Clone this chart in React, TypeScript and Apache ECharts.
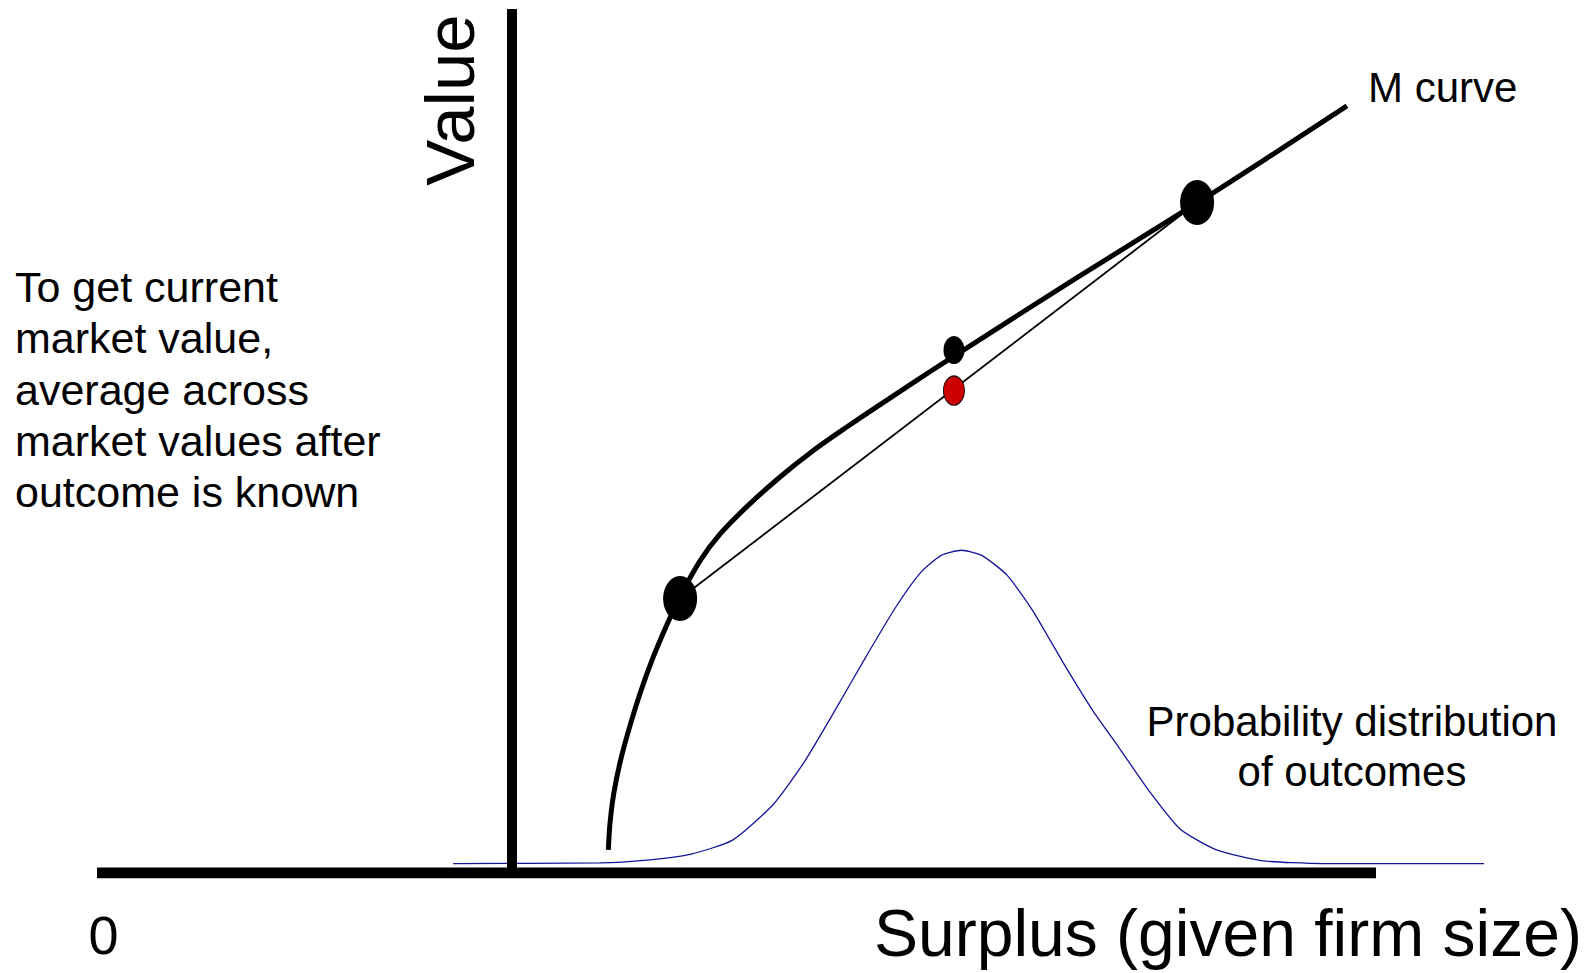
import React, { useEffect, useRef } from "react";
import * as echarts from "echarts";

// Axis ranges (surplus on x, value on y)
const surplusRange: [number, number] = [-20, 47.2];
const surplusAxisEnd = 41.7;
const valueRange: [number, number] = [0, 42];

// M curve: market value as a function of surplus
const mCurve: [number, number][] = [
  [4.67, 1.12], [4.74, 2.33], [4.93, 3.87], [5.26, 5.49], [5.72, 7.19],
  [6.2, 8.74], [6.78, 10.36], [7.45, 11.97], [8.08, 13.34], [9.09, 15.17],
  [10.06, 16.48], [11.35, 17.81], [12.95, 19.25], [14.56, 20.54], [16.17, 21.68],
  [17.78, 22.77], [19.38, 23.84], [21.35, 25.13], [27.18, 28.88], [33.07, 32.57],
  [36.59, 34.85], [40.3, 37.29],
];

// Probability distribution of outcomes (drawn on the same axes)
const distribution: [number, number][] = [
  [-2.82, 0.46], [4.27, 0.49], [6.54, 0.63], [8.66, 0.92], [10.66, 1.6],
  [12.62, 3.33], [14.09, 5.35], [15.56, 7.83], [17.03, 10.4], [18.5, 12.87],
  [19.73, 14.6], [20.71, 15.43], [21.7, 15.69], [22.68, 15.44], [23.9, 14.48],
  [25.13, 12.77], [26.6, 10.24], [28.08, 7.83], [29.3, 6.1], [30.77, 3.97],
  [32.25, 2.14], [33.97, 1.14], [36.17, 0.6], [39.12, 0.46], [46.91, 0.46],
];

// Outcome points
const lowOutcome: [number, number] = [8.13, 13.34];
const highOutcome: [number, number] = [33.07, 32.59];
const valueAtMean: [number, number] = [21.34, 25.42];
const averageValue: [number, number] = [21.34, 23.45];

const FONT = "'Liberation Sans', Arial, sans-serif";

export default function App() {
  const ref = useRef<HTMLDivElement>(null);

  useEffect(() => {
    document.body.style.margin = "0";
    if (!ref.current) return;
    const chart = echarts.init(ref.current, undefined, { renderer: "svg" });
    chart.setOption({
      animation: false,
      backgroundColor: "#ffffff",
      grid: { left: 97, right: 105, top: 9, bottom: 100 },
      xAxis: {
        type: "value",
        min: surplusRange[0],
        max: surplusRange[1],
        axisLine: { show: false },
        axisTick: { show: false },
        axisLabel: { show: false },
        splitLine: { show: false },
      },
      yAxis: {
        type: "value",
        min: valueRange[0],
        max: valueRange[1],
        z: 5,
        axisLine: { show: true, onZero: true, lineStyle: { color: "#000", width: 10, cap: "butt" } },
        axisTick: { show: false },
        axisLabel: { show: false },
        splitLine: { show: false },
      },
      series: [
        {
          type: "line",
          name: "distribution",
          data: distribution,
          clip: false,
          smooth: 0.2,
          symbol: "none",
          silent: true,
          z: 1,
          lineStyle: { color: "#14149a", width: 1.3 },
        },
        {
          type: "line",
          name: "surplus axis",
          data: [[surplusRange[0], 0], [surplusAxisEnd, 0]],
          symbol: "none",
          silent: true,
          z: 6,
          lineStyle: { color: "#000", width: 11, cap: "butt" },
        },
        {
          type: "line",
          name: "chord",
          data: [lowOutcome, highOutcome],
          symbol: "none",
          silent: true,
          z: 2,
          lineStyle: { color: "#000", width: 1.8 },
        },
        {
          type: "line",
          name: "M curve",
          data: mCurve,
          smooth: 0.3,
          symbol: "none",
          silent: true,
          z: 3,
          lineStyle: { color: "#000", width: 5 },
        },
        {
          type: "scatter",
          name: "outcomes",
          data: [lowOutcome, highOutcome],
          symbol: "circle",
          symbolSize: [34, 45],
          silent: true,
          z: 4,
          itemStyle: { color: "#000", opacity: 1 },
        },
        {
          type: "scatter",
          name: "value at mean",
          data: [valueAtMean],
          symbol: "circle",
          symbolSize: [21, 28],
          silent: true,
          z: 4,
          itemStyle: { color: "#000", opacity: 1 },
        },
        {
          type: "scatter",
          name: "average value",
          data: [averageValue],
          symbol: "circle",
          symbolSize: [21, 29],
          silent: true,
          z: 4,
          itemStyle: { color: "#cc0000", borderColor: "#000", borderWidth: 1, opacity: 1 },
        },
      ],
      graphic: [
        {
          type: "text",
          x: 450,
          y: 100,
          rotation: Math.PI / 2,
          style: { text: "Value", fontSize: 69, fontFamily: FONT, fill: "#000", align: "center", verticalAlign: "middle" },
        },
        {
          type: "text",
          x: 103.5,
          y: 935,
          style: { text: "0", fontSize: 54, fontFamily: FONT, fill: "#000", align: "center", verticalAlign: "middle" },
        },
        {
          type: "text",
          x: 874,
          y: 933,
          style: { text: "Surplus (given firm size)", fontSize: 66, fontFamily: FONT, fill: "#000", align: "left", verticalAlign: "middle" },
        },
        {
          type: "text",
          x: 1368,
          y: 87,
          style: { text: "M curve", fontSize: 42, fontFamily: FONT, fill: "#000", align: "left", verticalAlign: "middle" },
        },
        {
          type: "text",
          x: 1352,
          y: 746,
          style: {
            text: "Probability distribution\nof outcomes",
            fontSize: 42,
            lineHeight: 50,
            fontFamily: FONT,
            fill: "#000",
            align: "center",
            verticalAlign: "middle",
          },
        },
        {
          type: "text",
          x: 15,
          y: 389.5,
          style: {
            text: "To get current\nmarket value,\naverage across\nmarket values after\noutcome is known",
            fontSize: 43,
            lineHeight: 51.2,
            fontFamily: FONT,
            fill: "#000",
            align: "left",
            verticalAlign: "middle",
          },
        },
      ],
    });
    return () => chart.dispose();
  }, []);

  return <div ref={ref} style={{ width: 1595, height: 973 }} />;
}
